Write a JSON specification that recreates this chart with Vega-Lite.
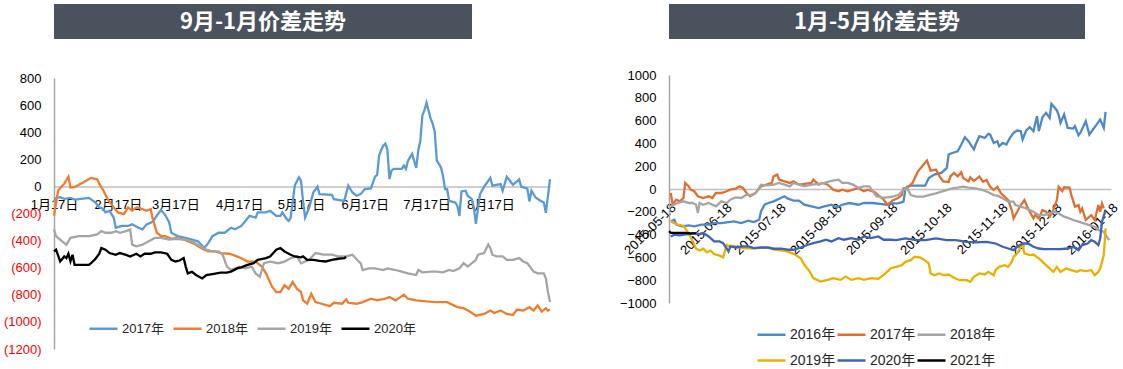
{
"$schema": "https://vega.github.io/schema/vega-lite/v6.json",
"background": "white",
"padding": {"left": 3, "top": 4, "right": 0, "bottom": 0},
"config": {"view": {"stroke": null}, "font": "Liberation Sans, Noto Sans CJK SC"},
"datasets": {
"L": [
{"d":"2021/01/17","s":"2017年","v":-92},{"d":"2021/01/20","s":"2017年","v":-80},{"d":"2021/01/22","s":"2017年","v":-92},{"d":"2021/01/25","s":"2017年","v":-85},{"d":"2021/01/27","s":"2017年","v":-97},{"d":"2021/01/30","s":"2017年","v":-92},{"d":"2021/02/03","s":"2017年","v":-85},{"d":"2021/02/06","s":"2017年","v":-117},{"d":"2021/02/08","s":"2017年","v":-155},{"d":"2021/02/10","s":"2017年","v":-167},{"d":"2021/02/11","s":"2017年","v":-192},{"d":"2021/02/13","s":"2017年","v":-180},{"d":"2021/02/15","s":"2017年","v":-230},{"d":"2021/02/16","s":"2017年","v":-305},{"d":"2021/02/19","s":"2017年","v":-292},{"d":"2021/02/22","s":"2017年","v":-292},{"d":"2021/02/24","s":"2017年","v":-280},{"d":"2021/02/27","s":"2017年","v":-305},{"d":"2021/03/01","s":"2017年","v":-317},{"d":"2021/03/03","s":"2017年","v":-280},{"d":"2021/03/05","s":"2017年","v":-267},{"d":"2021/03/06","s":"2017年","v":-260},{"d":"2021/03/08","s":"2017年","v":-215},{"d":"2021/03/10","s":"2017年","v":-175},{"d":"2021/03/12","s":"2017年","v":-210},{"d":"2021/03/14","s":"2017年","v":-267},{"d":"2021/03/15","s":"2017年","v":-342},{"d":"2021/03/18","s":"2017年","v":-367},{"d":"2021/03/22","s":"2017年","v":-380},{"d":"2021/03/25","s":"2017年","v":-392},{"d":"2021/03/28","s":"2017年","v":-405},{"d":"2021/03/31","s":"2017年","v":-455},{"d":"2021/04/02","s":"2017年","v":-417},{"d":"2021/04/04","s":"2017年","v":-367},{"d":"2021/04/07","s":"2017年","v":-342},{"d":"2021/04/10","s":"2017年","v":-342},{"d":"2021/04/13","s":"2017年","v":-305},{"d":"2021/04/15","s":"2017年","v":-317},{"d":"2021/04/18","s":"2017年","v":-292},{"d":"2021/04/20","s":"2017年","v":-255},{"d":"2021/04/22","s":"2017年","v":-217},{"d":"2021/04/25","s":"2017年","v":-230},{"d":"2021/04/26","s":"2017年","v":-192},{"d":"2021/04/30","s":"2017年","v":-192},{"d":"2021/05/02","s":"2017年","v":-180},{"d":"2021/05/05","s":"2017年","v":-217},{"d":"2021/05/07","s":"2017年","v":-217},{"d":"2021/05/08","s":"2017年","v":-192},{"d":"2021/05/10","s":"2017年","v":-240},{"d":"2021/05/11","s":"2017年","v":-255},{"d":"2021/05/12","s":"2017年","v":-230},{"d":"2021/05/14","s":"2017年","v":7},{"d":"2021/05/16","s":"2017年","v":67},{"d":"2021/05/17","s":"2017年","v":42},{"d":"2021/05/18","s":"2017年","v":-107},{"d":"2021/05/19","s":"2017年","v":-230},{"d":"2021/05/21","s":"2017年","v":-156},{"d":"2021/05/23","s":"2017年","v":-45},{"d":"2021/05/25","s":"2017年","v":-2},{"d":"2021/05/26","s":"2017年","v":-57},{"d":"2021/06/01","s":"2017年","v":-62},{"d":"2021/06/02","s":"2017年","v":-94},{"d":"2021/06/07","s":"2017年","v":-107},{"d":"2021/06/09","s":"2017年","v":5},{"d":"2021/06/11","s":"2017年","v":-45},{"d":"2021/06/13","s":"2017年","v":-69},{"d":"2021/06/15","s":"2017年","v":-57},{"d":"2021/06/17","s":"2017年","v":-20},{"d":"2021/06/20","s":"2017年","v":-15},{"d":"2021/06/22","s":"2017年","v":72},{"d":"2021/06/23","s":"2017年","v":84},{"d":"2021/06/24","s":"2017年","v":228},{"d":"2021/06/25","s":"2017年","v":270},{"d":"2021/06/26","s":"2017年","v":300},{"d":"2021/06/27","s":"2017年","v":315},{"d":"2021/06/28","s":"2017年","v":270},{"d":"2021/06/29","s":"2017年","v":54},{"d":"2021/06/30","s":"2017年","v":116},{"d":"2021/07/01","s":"2017年","v":129},{"d":"2021/07/05","s":"2017年","v":129},{"d":"2021/07/06","s":"2017年","v":154},{"d":"2021/07/07","s":"2017年","v":129},{"d":"2021/07/08","s":"2017年","v":190},{"d":"2021/07/10","s":"2017年","v":240},{"d":"2021/07/12","s":"2017年","v":136},{"d":"2021/07/13","s":"2017年","v":265},{"d":"2021/07/14","s":"2017年","v":339},{"d":"2021/07/15","s":"2017年","v":525},{"d":"2021/07/16","s":"2017年","v":562},{"d":"2021/07/17","s":"2017年","v":617},{"d":"2021/07/19","s":"2017年","v":500},{"d":"2021/07/20","s":"2017年","v":463},{"d":"2021/07/21","s":"2017年","v":401},{"d":"2021/07/22","s":"2017年","v":191},{"d":"2021/07/24","s":"2017年","v":141},{"d":"2021/07/25","s":"2017年","v":79},{"d":"2021/07/26","s":"2017年","v":-20},{"d":"2021/07/27","s":"2017年","v":-20},{"d":"2021/07/28","s":"2017年","v":-107},{"d":"2021/07/31","s":"2017年","v":-119},{"d":"2021/08/01","s":"2017年","v":-144},{"d":"2021/08/02","s":"2017年","v":-218},{"d":"2021/08/03","s":"2017年","v":-37},{"d":"2021/08/05","s":"2017年","v":-32},{"d":"2021/08/06","s":"2017年","v":-69},{"d":"2021/08/08","s":"2017年","v":-94},{"d":"2021/08/09","s":"2017年","v":-156},{"d":"2021/08/10","s":"2017年","v":-277},{"d":"2021/08/12","s":"2017年","v":-57},{"d":"2021/08/14","s":"2017年","v":-2},{"d":"2021/08/17","s":"2017年","v":62},{"d":"2021/08/18","s":"2017年","v":5},{"d":"2021/08/22","s":"2017年","v":17},{"d":"2021/08/23","s":"2017年","v":-32},{"d":"2021/08/25","s":"2017年","v":72},{"d":"2021/08/28","s":"2017年","v":12},{"d":"2021/08/31","s":"2017年","v":52},{"d":"2021/09/01","s":"2017年","v":-2},{"d":"2021/09/04","s":"2017年","v":-17},{"d":"2021/09/05","s":"2017年","v":-111},{"d":"2021/09/06","s":"2017年","v":-32},{"d":"2021/09/08","s":"2017年","v":-82},{"d":"2021/09/10","s":"2017年","v":-102},{"d":"2021/09/12","s":"2017年","v":-119},{"d":"2021/09/13","s":"2017年","v":-195},{"d":"2021/09/15","s":"2017年","v":54},
{"d":"2021/01/17","s":"2018年","v":-217},{"d":"2021/01/19","s":"2018年","v":-30},{"d":"2021/01/22","s":"2018年","v":20},{"d":"2021/01/24","s":"2018年","v":72},{"d":"2021/01/25","s":"2018年","v":-8},{"d":"2021/01/27","s":"2018年","v":-5},{"d":"2021/01/30","s":"2018年","v":20},{"d":"2021/02/02","s":"2018年","v":45},{"d":"2021/02/04","s":"2018年","v":62},{"d":"2021/02/07","s":"2018年","v":52},{"d":"2021/02/08","s":"2018年","v":20},{"d":"2021/02/10","s":"2018年","v":-30},{"d":"2021/02/12","s":"2018年","v":-92},{"d":"2021/02/15","s":"2018年","v":-155},{"d":"2021/02/17","s":"2018年","v":-192},{"d":"2021/02/20","s":"2018年","v":-205},{"d":"2021/02/22","s":"2018年","v":-155},{"d":"2021/02/24","s":"2018年","v":-180},{"d":"2021/02/26","s":"2018年","v":-155},{"d":"2021/02/28","s":"2018年","v":-162},{"d":"2021/03/03","s":"2018年","v":-180},{"d":"2021/03/05","s":"2018年","v":-167},{"d":"2021/03/06","s":"2018年","v":-242},{"d":"2021/03/08","s":"2018年","v":-342},{"d":"2021/03/10","s":"2018年","v":-367},{"d":"2021/03/12","s":"2018年","v":-367},{"d":"2021/03/15","s":"2018年","v":-387},{"d":"2021/03/17","s":"2018年","v":-380},{"d":"2021/03/21","s":"2018年","v":-392},{"d":"2021/03/23","s":"2018年","v":-405},{"d":"2021/03/26","s":"2018年","v":-422},{"d":"2021/03/28","s":"2018年","v":-442},{"d":"2021/03/31","s":"2018年","v":-467},{"d":"2021/04/02","s":"2018年","v":-480},{"d":"2021/04/05","s":"2018年","v":-480},{"d":"2021/04/08","s":"2018年","v":-492},{"d":"2021/04/12","s":"2018年","v":-497},{"d":"2021/04/14","s":"2018年","v":-505},{"d":"2021/04/18","s":"2018年","v":-530},{"d":"2021/04/21","s":"2018年","v":-555},{"d":"2021/04/25","s":"2018年","v":-555},{"d":"2021/04/28","s":"2018年","v":-592},{"d":"2021/04/30","s":"2018年","v":-642},{"d":"2021/05/03","s":"2018年","v":-742},{"d":"2021/05/05","s":"2018年","v":-780},{"d":"2021/05/07","s":"2018年","v":-780},{"d":"2021/05/09","s":"2018年","v":-730},{"d":"2021/05/11","s":"2018年","v":-755},{"d":"2021/05/13","s":"2018年","v":-705},{"d":"2021/05/15","s":"2018年","v":-755},{"d":"2021/05/17","s":"2018年","v":-779},{"d":"2021/05/18","s":"2018年","v":-841},{"d":"2021/05/20","s":"2018年","v":-866},{"d":"2021/05/22","s":"2018年","v":-792},{"d":"2021/05/24","s":"2018年","v":-854},{"d":"2021/05/27","s":"2018年","v":-866},{"d":"2021/05/31","s":"2018年","v":-884},{"d":"2021/06/02","s":"2018年","v":-859},{"d":"2021/06/06","s":"2018年","v":-866},{"d":"2021/06/08","s":"2018年","v":-834},{"d":"2021/06/09","s":"2018年","v":-859},{"d":"2021/06/13","s":"2018年","v":-866},{"d":"2021/06/16","s":"2018年","v":-854},{"d":"2021/06/20","s":"2018年","v":-829},{"d":"2021/06/23","s":"2018年","v":-841},{"d":"2021/06/27","s":"2018年","v":-829},{"d":"2021/06/29","s":"2018年","v":-817},{"d":"2021/07/02","s":"2018年","v":-841},{"d":"2021/07/06","s":"2018年","v":-799},{"d":"2021/07/08","s":"2018年","v":-829},{"d":"2021/07/12","s":"2018年","v":-841},{"d":"2021/07/17","s":"2018年","v":-849},{"d":"2021/07/22","s":"2018年","v":-854},{"d":"2021/07/27","s":"2018年","v":-854},{"d":"2021/08/01","s":"2018年","v":-891},{"d":"2021/08/04","s":"2018年","v":-899},{"d":"2021/08/07","s":"2018年","v":-924},{"d":"2021/08/10","s":"2018年","v":-954},{"d":"2021/08/14","s":"2018年","v":-941},{"d":"2021/08/17","s":"2018年","v":-916},{"d":"2021/08/19","s":"2018年","v":-934},{"d":"2021/08/22","s":"2018年","v":-916},{"d":"2021/08/25","s":"2018年","v":-941},{"d":"2021/08/28","s":"2018年","v":-949},{"d":"2021/08/30","s":"2018年","v":-909},{"d":"2021/09/02","s":"2018年","v":-916},{"d":"2021/09/05","s":"2018年","v":-891},{"d":"2021/09/07","s":"2018年","v":-916},{"d":"2021/09/09","s":"2018年","v":-879},{"d":"2021/09/11","s":"2018年","v":-924},{"d":"2021/09/13","s":"2018年","v":-899},{"d":"2021/09/14","s":"2018年","v":-916},{"d":"2021/09/15","s":"2018年","v":-909},
{"d":"2021/01/17","s":"2019年","v":-317},{"d":"2021/01/18","s":"2019年","v":-367},{"d":"2021/01/21","s":"2019年","v":-405},{"d":"2021/01/23","s":"2019年","v":-430},{"d":"2021/01/25","s":"2019年","v":-380},{"d":"2021/01/29","s":"2019年","v":-367},{"d":"2021/02/03","s":"2019年","v":-367},{"d":"2021/02/07","s":"2019年","v":-355},{"d":"2021/02/09","s":"2019年","v":-330},{"d":"2021/02/11","s":"2019年","v":-342},{"d":"2021/02/14","s":"2019年","v":-342},{"d":"2021/02/16","s":"2019年","v":-330},{"d":"2021/02/18","s":"2019年","v":-342},{"d":"2021/02/21","s":"2019年","v":-330},{"d":"2021/02/23","s":"2019年","v":-317},{"d":"2021/02/24","s":"2019年","v":-430},{"d":"2021/02/26","s":"2019年","v":-442},{"d":"2021/03/01","s":"2019年","v":-430},{"d":"2021/03/04","s":"2019年","v":-405},{"d":"2021/03/07","s":"2019年","v":-380},{"d":"2021/03/10","s":"2019年","v":-380},{"d":"2021/03/14","s":"2019年","v":-392},{"d":"2021/03/17","s":"2019年","v":-387},{"d":"2021/03/22","s":"2019年","v":-392},{"d":"2021/03/25","s":"2019年","v":-405},{"d":"2021/03/29","s":"2019年","v":-442},{"d":"2021/04/01","s":"2019年","v":-467},{"d":"2021/04/04","s":"2019年","v":-480},{"d":"2021/04/07","s":"2019年","v":-480},{"d":"2021/04/09","s":"2019年","v":-505},{"d":"2021/04/11","s":"2019年","v":-592},{"d":"2021/04/13","s":"2019年","v":-617},{"d":"2021/04/17","s":"2019年","v":-592},{"d":"2021/04/20","s":"2019年","v":-605},{"d":"2021/04/23","s":"2019年","v":-592},{"d":"2021/04/25","s":"2019年","v":-642},{"d":"2021/04/27","s":"2019年","v":-667},{"d":"2021/04/29","s":"2019年","v":-567},{"d":"2021/05/02","s":"2019年","v":-555},{"d":"2021/05/06","s":"2019年","v":-567},{"d":"2021/05/09","s":"2019年","v":-555},{"d":"2021/05/12","s":"2019年","v":-530},{"d":"2021/05/15","s":"2019年","v":-517},{"d":"2021/05/17","s":"2019年","v":-567},{"d":"2021/05/21","s":"2019年","v":-542},{"d":"2021/05/24","s":"2019年","v":-492},{"d":"2021/05/28","s":"2019年","v":-504},{"d":"2021/06/01","s":"2019年","v":-504},{"d":"2021/06/04","s":"2019年","v":-517},{"d":"2021/06/08","s":"2019年","v":-517},{"d":"2021/06/11","s":"2019年","v":-504},{"d":"2021/06/14","s":"2019年","v":-554},{"d":"2021/06/15","s":"2019年","v":-567},{"d":"2021/06/16","s":"2019年","v":-617},{"d":"2021/06/19","s":"2019年","v":-605},{"d":"2021/06/22","s":"2019年","v":-605},{"d":"2021/06/26","s":"2019年","v":-617},{"d":"2021/06/28","s":"2019年","v":-605},{"d":"2021/07/02","s":"2019年","v":-617},{"d":"2021/07/05","s":"2019年","v":-629},{"d":"2021/07/08","s":"2019年","v":-642},{"d":"2021/07/12","s":"2019年","v":-654},{"d":"2021/07/13","s":"2019年","v":-617},{"d":"2021/07/15","s":"2019年","v":-634},{"d":"2021/07/19","s":"2019年","v":-629},{"d":"2021/07/22","s":"2019年","v":-629},{"d":"2021/07/25","s":"2019年","v":-634},{"d":"2021/07/28","s":"2019年","v":-617},{"d":"2021/07/30","s":"2019年","v":-625},{"d":"2021/08/02","s":"2019年","v":-605},{"d":"2021/08/04","s":"2019年","v":-567},{"d":"2021/08/06","s":"2019年","v":-592},{"d":"2021/08/10","s":"2019年","v":-542},{"d":"2021/08/11","s":"2019年","v":-504},{"d":"2021/08/14","s":"2019年","v":-492},{"d":"2021/08/16","s":"2019年","v":-429},{"d":"2021/08/17","s":"2019年","v":-454},{"d":"2021/08/18","s":"2019年","v":-504},{"d":"2021/08/20","s":"2019年","v":-517},{"d":"2021/08/23","s":"2019年","v":-517},{"d":"2021/08/25","s":"2019年","v":-542},{"d":"2021/08/28","s":"2019年","v":-542},{"d":"2021/08/31","s":"2019年","v":-529},{"d":"2021/09/02","s":"2019年","v":-554},{"d":"2021/09/04","s":"2019年","v":-567},{"d":"2021/09/07","s":"2019年","v":-629},{"d":"2021/09/09","s":"2019年","v":-642},{"d":"2021/09/12","s":"2019年","v":-642},{"d":"2021/09/13","s":"2019年","v":-679},{"d":"2021/09/14","s":"2019年","v":-779},{"d":"2021/09/15","s":"2019年","v":-854},
{"d":"2021/01/17","s":"2020年","v":-479},{"d":"2021/01/18","s":"2020年","v":-467},{"d":"2021/01/20","s":"2020年","v":-554},{"d":"2021/01/22","s":"2020年","v":-517},{"d":"2021/01/23","s":"2020年","v":-530},{"d":"2021/01/24","s":"2020年","v":-497},{"d":"2021/01/25","s":"2020年","v":-554},{"d":"2021/01/26","s":"2020年","v":-505},{"d":"2021/01/27","s":"2020年","v":-579},{"d":"2021/01/29","s":"2020年","v":-579},{"d":"2021/02/03","s":"2020年","v":-579},{"d":"2021/02/04","s":"2020年","v":-567},{"d":"2021/02/06","s":"2020年","v":-537},{"d":"2021/02/08","s":"2020年","v":-497},{"d":"2021/02/09","s":"2020年","v":-455},{"d":"2021/02/11","s":"2020年","v":-467},{"d":"2021/02/13","s":"2020年","v":-492},{"d":"2021/02/16","s":"2020年","v":-505},{"d":"2021/02/18","s":"2020年","v":-492},{"d":"2021/02/21","s":"2020年","v":-505},{"d":"2021/02/23","s":"2020年","v":-517},{"d":"2021/02/26","s":"2020年","v":-497},{"d":"2021/02/28","s":"2020年","v":-517},{"d":"2021/03/02","s":"2020年","v":-497},{"d":"2021/03/05","s":"2020年","v":-497},{"d":"2021/03/07","s":"2020年","v":-487},{"d":"2021/03/10","s":"2020年","v":-487},{"d":"2021/03/13","s":"2020年","v":-497},{"d":"2021/03/15","s":"2020年","v":-542},{"d":"2021/03/17","s":"2020年","v":-554},{"d":"2021/03/19","s":"2020年","v":-547},{"d":"2021/03/21","s":"2020年","v":-529},{"d":"2021/03/22","s":"2020年","v":-592},{"d":"2021/03/23","s":"2020年","v":-642},{"d":"2021/03/25","s":"2020年","v":-630},{"d":"2021/03/27","s":"2020年","v":-654},{"d":"2021/03/30","s":"2020年","v":-679},{"d":"2021/04/01","s":"2020年","v":-654},{"d":"2021/04/04","s":"2020年","v":-647},{"d":"2021/04/08","s":"2020年","v":-637},{"d":"2021/04/11","s":"2020年","v":-637},{"d":"2021/04/13","s":"2020年","v":-629},{"d":"2021/04/16","s":"2020年","v":-605},{"d":"2021/04/18","s":"2020年","v":-597},{"d":"2021/04/21","s":"2020年","v":-579},{"d":"2021/04/24","s":"2020年","v":-567},{"d":"2021/04/26","s":"2020年","v":-542},{"d":"2021/04/30","s":"2020年","v":-529},{"d":"2021/05/02","s":"2020年","v":-517},{"d":"2021/05/05","s":"2020年","v":-467},{"d":"2021/05/07","s":"2020年","v":-455},{"d":"2021/05/09","s":"2020年","v":-480},{"d":"2021/05/12","s":"2020年","v":-505},{"d":"2021/05/14","s":"2020年","v":-517},{"d":"2021/05/17","s":"2020年","v":-524},{"d":"2021/05/18","s":"2020年","v":-517},{"d":"2021/05/20","s":"2020年","v":-542},{"d":"2021/05/23","s":"2020年","v":-542},{"d":"2021/05/26","s":"2020年","v":-549},{"d":"2021/05/29","s":"2020年","v":-554},{"d":"2021/06/01","s":"2020年","v":-542},{"d":"2021/06/04","s":"2020年","v":-534},{"d":"2021/06/07","s":"2020年","v":-529},{"d":"2021/06/08","s":"2020年","v":-521}
],
"R": [
{"d":"2015/05/19","s":"2016年","v":-284},{"d":"2015/05/21","s":"2016年","v":-270},{"d":"2015/05/22","s":"2016年","v":-313},{"d":"2015/05/25","s":"2016年","v":-328},{"d":"2015/05/29","s":"2016年","v":-319},{"d":"2015/06/01","s":"2016年","v":-328},{"d":"2015/06/05","s":"2016年","v":-313},{"d":"2015/06/09","s":"2016年","v":-313},{"d":"2015/06/12","s":"2016年","v":-299},{"d":"2015/06/16","s":"2016年","v":-299},{"d":"2015/06/20","s":"2016年","v":-290},{"d":"2015/06/23","s":"2016年","v":-284},{"d":"2015/06/27","s":"2016年","v":-299},{"d":"2015/07/01","s":"2016年","v":-278},{"d":"2015/07/04","s":"2016年","v":-290},{"d":"2015/07/07","s":"2016年","v":-270},{"d":"2015/07/08","s":"2016年","v":-196},{"d":"2015/07/10","s":"2016年","v":-138},{"d":"2015/07/12","s":"2016年","v":-123},{"d":"2015/07/15","s":"2016年","v":-108},{"d":"2015/07/19","s":"2016年","v":-79},{"d":"2015/07/21","s":"2016年","v":-64},{"d":"2015/07/23","s":"2016年","v":-85},{"d":"2015/07/26","s":"2016年","v":-102},{"d":"2015/07/29","s":"2016年","v":-102},{"d":"2015/08/01","s":"2016年","v":-138},{"d":"2015/08/05","s":"2016年","v":-152},{"d":"2015/08/09","s":"2016年","v":-167},{"d":"2015/08/12","s":"2016年","v":-152},{"d":"2015/08/16","s":"2016年","v":-138},{"d":"2015/08/19","s":"2016年","v":-161},{"d":"2015/08/22","s":"2016年","v":-138},{"d":"2015/08/26","s":"2016年","v":-123},{"d":"2015/08/31","s":"2016年","v":-138},{"d":"2015/09/03","s":"2016年","v":-123},{"d":"2015/09/08","s":"2016年","v":-123},{"d":"2015/09/13","s":"2016年","v":-132},{"d":"2015/09/16","s":"2016年","v":-138},{"d":"2015/09/19","s":"2016年","v":-126},{"d":"2015/09/22","s":"2016年","v":-126},{"d":"2015/09/25","s":"2016年","v":-110},{"d":"2015/09/26","s":"2016年","v":0},{"d":"2015/09/27","s":"2016年","v":20},{"d":"2015/09/29","s":"2016年","v":29},{"d":"2015/10/07","s":"2016年","v":29},{"d":"2015/10/09","s":"2016年","v":97},{"d":"2015/10/12","s":"2016年","v":126},{"d":"2015/10/16","s":"2016年","v":141},{"d":"2015/10/19","s":"2016年","v":185},{"d":"2015/10/20","s":"2016年","v":302},{"d":"2015/10/22","s":"2016年","v":316},{"d":"2015/10/25","s":"2016年","v":331},{"d":"2015/10/27","s":"2016年","v":390},{"d":"2015/10/29","s":"2016年","v":454},{"d":"2015/10/31","s":"2016年","v":419},{"d":"2015/11/03","s":"2016年","v":346},{"d":"2015/11/04","s":"2016年","v":390},{"d":"2015/11/06","s":"2016年","v":463},{"d":"2015/11/09","s":"2016年","v":448},{"d":"2015/11/11","s":"2016年","v":483},{"d":"2015/11/12","s":"2016年","v":478},{"d":"2015/11/14","s":"2016年","v":404},{"d":"2015/11/16","s":"2016年","v":419},{"d":"2015/11/17","s":"2016年","v":375},{"d":"2015/11/19","s":"2016年","v":404},{"d":"2015/11/21","s":"2016年","v":390},{"d":"2015/11/23","s":"2016年","v":448},{"d":"2015/11/25","s":"2016年","v":492},{"d":"2015/11/27","s":"2016年","v":513},{"d":"2015/11/29","s":"2016年","v":507},{"d":"2015/11/30","s":"2016年","v":434},{"d":"2015/12/02","s":"2016年","v":513},{"d":"2015/12/04","s":"2016年","v":542},{"d":"2015/12/06","s":"2016年","v":507},{"d":"2015/12/08","s":"2016年","v":639},{"d":"2015/12/09","s":"2016年","v":507},{"d":"2015/12/11","s":"2016年","v":630},{"d":"2015/12/13","s":"2016年","v":668},{"d":"2015/12/15","s":"2016年","v":624},{"d":"2015/12/16","s":"2016年","v":747},{"d":"2015/12/19","s":"2016年","v":689},{"d":"2015/12/20","s":"2016年","v":648},{"d":"2015/12/21","s":"2016年","v":580},{"d":"2015/12/23","s":"2016年","v":653},{"d":"2015/12/25","s":"2016年","v":536},{"d":"2015/12/28","s":"2016年","v":530},{"d":"2015/12/29","s":"2016年","v":551},{"d":"2015/12/31","s":"2016年","v":472},{"d":"2016/01/01","s":"2016年","v":492},{"d":"2016/01/04","s":"2016年","v":595},{"d":"2016/01/06","s":"2016年","v":478},{"d":"2016/01/10","s":"2016年","v":565},{"d":"2016/01/12","s":"2016年","v":609},{"d":"2016/01/14","s":"2016年","v":536},{"d":"2016/01/15","s":"2016年","v":677},
{"d":"2015/05/19","s":"2017年","v":-35},{"d":"2015/05/20","s":"2017年","v":-138},{"d":"2015/05/22","s":"2017年","v":-94},{"d":"2015/05/24","s":"2017年","v":-108},{"d":"2015/05/26","s":"2017年","v":-79},{"d":"2015/05/27","s":"2017年","v":53},{"d":"2015/05/29","s":"2017年","v":23},{"d":"2015/05/30","s":"2017年","v":-6},{"d":"2015/06/01","s":"2017年","v":-20},{"d":"2015/06/03","s":"2017年","v":-64},{"d":"2015/06/06","s":"2017年","v":-79},{"d":"2015/06/09","s":"2017年","v":-64},{"d":"2015/06/11","s":"2017年","v":-79},{"d":"2015/06/13","s":"2017年","v":-35},{"d":"2015/06/16","s":"2017年","v":-35},{"d":"2015/06/19","s":"2017年","v":-20},{"d":"2015/06/21","s":"2017年","v":-6},{"d":"2015/06/24","s":"2017年","v":3},{"d":"2015/06/26","s":"2017年","v":23},{"d":"2015/06/28","s":"2017年","v":9},{"d":"2015/06/30","s":"2017年","v":-35},{"d":"2015/07/02","s":"2017年","v":-64},{"d":"2015/07/05","s":"2017年","v":-35},{"d":"2015/07/08","s":"2017年","v":23},{"d":"2015/07/11","s":"2017年","v":38},{"d":"2015/07/14","s":"2017年","v":53},{"d":"2015/07/15","s":"2017年","v":111},{"d":"2015/07/17","s":"2017年","v":126},{"d":"2015/07/18","s":"2017年","v":82},{"d":"2015/07/21","s":"2017年","v":67},{"d":"2015/07/24","s":"2017年","v":53},{"d":"2015/07/26","s":"2017年","v":67},{"d":"2015/07/29","s":"2017年","v":38},{"d":"2015/08/01","s":"2017年","v":44},{"d":"2015/08/05","s":"2017年","v":53},{"d":"2015/08/06","s":"2017年","v":82},{"d":"2015/08/09","s":"2017年","v":38},{"d":"2015/08/11","s":"2017年","v":53},{"d":"2015/08/14","s":"2017年","v":38},{"d":"2015/08/17","s":"2017年","v":-6},{"d":"2015/08/20","s":"2017年","v":-20},{"d":"2015/08/22","s":"2017年","v":-6},{"d":"2015/08/25","s":"2017年","v":-20},{"d":"2015/08/28","s":"2017年","v":-6},{"d":"2015/08/31","s":"2017年","v":9},{"d":"2015/09/03","s":"2017年","v":-20},{"d":"2015/09/05","s":"2017年","v":-6},{"d":"2015/09/09","s":"2017年","v":-26},{"d":"2015/09/11","s":"2017年","v":-56},{"d":"2015/09/13","s":"2017年","v":-79},{"d":"2015/09/14","s":"2017年","v":-94},{"d":"2015/09/16","s":"2017年","v":-138},{"d":"2015/09/19","s":"2017年","v":-100},{"d":"2015/09/22","s":"2017年","v":-79},{"d":"2015/09/24","s":"2017年","v":-53},{"d":"2015/09/25","s":"2017年","v":6},{"d":"2015/09/27","s":"2017年","v":9},{"d":"2015/09/30","s":"2017年","v":53},{"d":"2015/10/03","s":"2017年","v":155},{"d":"2015/10/08","s":"2017年","v":249},{"d":"2015/10/10","s":"2017年","v":161},{"d":"2015/10/13","s":"2017年","v":170},{"d":"2015/10/15","s":"2017年","v":111},{"d":"2015/10/17","s":"2017年","v":67},{"d":"2015/10/20","s":"2017年","v":62},{"d":"2015/10/21","s":"2017年","v":111},{"d":"2015/10/23","s":"2017年","v":141},{"d":"2015/10/25","s":"2017年","v":111},{"d":"2015/10/27","s":"2017年","v":146},{"d":"2015/10/28","s":"2017年","v":97},{"d":"2015/10/31","s":"2017年","v":67},{"d":"2015/11/01","s":"2017年","v":103},{"d":"2015/11/03","s":"2017年","v":70},{"d":"2015/11/06","s":"2017年","v":110},{"d":"2015/11/08","s":"2017年","v":64},{"d":"2015/11/10","s":"2017年","v":79},{"d":"2015/11/12","s":"2017年","v":20},{"d":"2015/11/14","s":"2017年","v":-9},{"d":"2015/11/16","s":"2017年","v":20},{"d":"2015/11/18","s":"2017年","v":-38},{"d":"2015/11/20","s":"2017年","v":-67},{"d":"2015/11/22","s":"2017年","v":-97},{"d":"2015/11/24","s":"2017年","v":-185},{"d":"2015/11/25","s":"2017年","v":-258},{"d":"2015/11/27","s":"2017年","v":-199},{"d":"2015/11/29","s":"2017年","v":-141},{"d":"2015/12/01","s":"2017年","v":-97},{"d":"2015/12/03","s":"2017年","v":-170},{"d":"2015/12/06","s":"2017年","v":-258},{"d":"2015/12/07","s":"2017年","v":-229},{"d":"2015/12/09","s":"2017年","v":-258},{"d":"2015/12/11","s":"2017年","v":-185},{"d":"2015/12/13","s":"2017年","v":-199},{"d":"2015/12/15","s":"2017年","v":-243},{"d":"2015/12/17","s":"2017年","v":-185},{"d":"2015/12/19","s":"2017年","v":-97},{"d":"2015/12/20","s":"2017年","v":20},{"d":"2015/12/22","s":"2017年","v":-18},{"d":"2015/12/23","s":"2017年","v":15},{"d":"2015/12/26","s":"2017年","v":12},{"d":"2015/12/27","s":"2017年","v":-53},{"d":"2015/12/29","s":"2017年","v":-155},{"d":"2015/12/31","s":"2017年","v":-141},{"d":"2016/01/01","s":"2017年","v":-199},{"d":"2016/01/02","s":"2017年","v":-170},{"d":"2016/01/04","s":"2017年","v":-272},{"d":"2016/01/07","s":"2017年","v":-229},{"d":"2016/01/09","s":"2017年","v":-272},{"d":"2016/01/11","s":"2017年","v":-141},{"d":"2016/01/12","s":"2017年","v":-199},{"d":"2016/01/13","s":"2017年","v":-126},{"d":"2016/01/14","s":"2017年","v":-170},
{"d":"2015/05/19","s":"2018年","v":-152},{"d":"2015/05/23","s":"2018年","v":-123},{"d":"2015/05/26","s":"2018年","v":-108},{"d":"2015/05/29","s":"2018年","v":-123},{"d":"2015/05/31","s":"2018年","v":-123},{"d":"2015/06/02","s":"2018年","v":-138},{"d":"2015/06/03","s":"2018年","v":-211},{"d":"2015/06/04","s":"2018年","v":-123},{"d":"2015/06/06","s":"2018年","v":-138},{"d":"2015/06/09","s":"2018年","v":-123},{"d":"2015/06/13","s":"2018年","v":-152},{"d":"2015/06/16","s":"2018年","v":-108},{"d":"2015/06/19","s":"2018年","v":-123},{"d":"2015/06/21","s":"2018年","v":-94},{"d":"2015/06/24","s":"2018年","v":-73},{"d":"2015/06/27","s":"2018年","v":-79},{"d":"2015/06/30","s":"2018年","v":-50},{"d":"2015/07/02","s":"2018年","v":-56},{"d":"2015/07/05","s":"2018年","v":-35},{"d":"2015/07/08","s":"2018年","v":38},{"d":"2015/07/11","s":"2018年","v":32},{"d":"2015/07/15","s":"2018年","v":38},{"d":"2015/07/18","s":"2018年","v":53},{"d":"2015/07/21","s":"2018年","v":38},{"d":"2015/07/24","s":"2018年","v":23},{"d":"2015/07/26","s":"2018年","v":53},{"d":"2015/07/29","s":"2018年","v":38},{"d":"2015/08/01","s":"2018年","v":23},{"d":"2015/08/05","s":"2018年","v":38},{"d":"2015/08/09","s":"2018年","v":44},{"d":"2015/08/12","s":"2018年","v":53},{"d":"2015/08/15","s":"2018年","v":67},{"d":"2015/08/17","s":"2018年","v":73},{"d":"2015/08/20","s":"2018年","v":82},{"d":"2015/08/22","s":"2018年","v":53},{"d":"2015/08/25","s":"2018年","v":53},{"d":"2015/08/28","s":"2018年","v":38},{"d":"2015/08/31","s":"2018年","v":9},{"d":"2015/09/03","s":"2018年","v":23},{"d":"2015/09/06","s":"2018年","v":23},{"d":"2015/09/08","s":"2018年","v":-20},{"d":"2015/09/10","s":"2018年","v":-64},{"d":"2015/09/13","s":"2018年","v":-73},{"d":"2015/09/15","s":"2018年","v":-76},{"d":"2015/09/19","s":"2018年","v":-67},{"d":"2015/09/22","s":"2018年","v":-53},{"d":"2015/09/25","s":"2018年","v":-9},{"d":"2015/09/27","s":"2018年","v":6},{"d":"2015/09/29","s":"2018年","v":-53},{"d":"2015/10/02","s":"2018年","v":-67},{"d":"2015/10/06","s":"2018年","v":-67},{"d":"2015/10/09","s":"2018年","v":-53},{"d":"2015/10/13","s":"2018年","v":-38},{"d":"2015/10/16","s":"2018年","v":-23},{"d":"2015/10/19","s":"2018年","v":-9},{"d":"2015/10/22","s":"2018年","v":6},{"d":"2015/10/25","s":"2018年","v":12},{"d":"2015/10/28","s":"2018年","v":20},{"d":"2015/10/31","s":"2018年","v":12},{"d":"2015/11/04","s":"2018年","v":6},{"d":"2015/11/08","s":"2018年","v":-9},{"d":"2015/11/11","s":"2018年","v":-29},{"d":"2015/11/14","s":"2018年","v":-53},{"d":"2015/11/16","s":"2018年","v":-59},{"d":"2015/11/19","s":"2018年","v":-82},{"d":"2015/11/22","s":"2018年","v":-111},{"d":"2015/11/25","s":"2018年","v":-111},{"d":"2015/11/26","s":"2018年","v":-141},{"d":"2015/11/29","s":"2018年","v":-155},{"d":"2015/12/02","s":"2018年","v":-170},{"d":"2015/12/04","s":"2018年","v":-185},{"d":"2015/12/06","s":"2018年","v":-199},{"d":"2015/12/09","s":"2018年","v":-229},{"d":"2015/12/12","s":"2018年","v":-229},{"d":"2015/12/15","s":"2018年","v":-214},{"d":"2015/12/17","s":"2018年","v":-199},{"d":"2015/12/20","s":"2018年","v":-214},{"d":"2015/12/23","s":"2018年","v":-243},{"d":"2015/12/26","s":"2018年","v":-258},{"d":"2015/12/28","s":"2018年","v":-272},{"d":"2015/12/31","s":"2018年","v":-287},{"d":"2016/01/03","s":"2018年","v":-302},{"d":"2016/01/06","s":"2018年","v":-316},{"d":"2016/01/09","s":"2018年","v":-331},{"d":"2016/01/11","s":"2018年","v":-360},{"d":"2016/01/14","s":"2018年","v":-375},{"d":"2016/01/15","s":"2018年","v":-404},{"d":"2016/01/17","s":"2018年","v":-448},
{"d":"2015/05/19","s":"2019年","v":-284},{"d":"2015/05/21","s":"2019年","v":-300},{"d":"2015/05/23","s":"2019年","v":-313},{"d":"2015/05/26","s":"2019年","v":-322},{"d":"2015/05/29","s":"2019年","v":-392},{"d":"2015/05/31","s":"2019年","v":-454},{"d":"2015/06/02","s":"2019年","v":-524},{"d":"2015/06/04","s":"2019年","v":-540},{"d":"2015/06/06","s":"2019年","v":-524},{"d":"2015/06/08","s":"2019年","v":-555},{"d":"2015/06/10","s":"2019年","v":-540},{"d":"2015/06/12","s":"2019年","v":-570},{"d":"2015/06/15","s":"2019年","v":-585},{"d":"2015/06/17","s":"2019年","v":-600},{"d":"2015/06/19","s":"2019年","v":-489},{"d":"2015/06/20","s":"2019年","v":-500},{"d":"2015/06/23","s":"2019年","v":-500},{"d":"2015/06/27","s":"2019年","v":-516},{"d":"2015/07/01","s":"2019年","v":-521},{"d":"2015/07/04","s":"2019年","v":-521},{"d":"2015/07/08","s":"2019年","v":-516},{"d":"2015/07/12","s":"2019年","v":-516},{"d":"2015/07/15","s":"2019年","v":-530},{"d":"2015/07/19","s":"2019年","v":-539},{"d":"2015/07/22","s":"2019年","v":-545},{"d":"2015/07/25","s":"2019年","v":-563},{"d":"2015/07/27","s":"2019年","v":-577},{"d":"2015/07/30","s":"2019年","v":-607},{"d":"2015/08/01","s":"2019年","v":-665},{"d":"2015/08/04","s":"2019年","v":-724},{"d":"2015/08/06","s":"2019年","v":-782},{"d":"2015/08/10","s":"2019年","v":-812},{"d":"2015/08/14","s":"2019年","v":-797},{"d":"2015/08/17","s":"2019年","v":-782},{"d":"2015/08/21","s":"2019年","v":-797},{"d":"2015/08/24","s":"2019年","v":-768},{"d":"2015/08/27","s":"2019年","v":-797},{"d":"2015/08/31","s":"2019年","v":-782},{"d":"2015/09/03","s":"2019年","v":-797},{"d":"2015/09/07","s":"2019年","v":-782},{"d":"2015/09/11","s":"2019年","v":-788},{"d":"2015/09/14","s":"2019年","v":-753},{"d":"2015/09/16","s":"2019年","v":-724},{"d":"2015/09/18","s":"2019年","v":-695},{"d":"2015/09/21","s":"2019年","v":-683},{"d":"2015/09/24","s":"2019年","v":-668},{"d":"2015/09/26","s":"2019年","v":-639},{"d":"2015/09/29","s":"2019年","v":-624},{"d":"2015/10/01","s":"2019年","v":-595},{"d":"2015/10/04","s":"2019年","v":-600},{"d":"2015/10/06","s":"2019年","v":-615},{"d":"2015/10/09","s":"2019年","v":-653},{"d":"2015/10/10","s":"2019年","v":-741},{"d":"2015/10/12","s":"2019年","v":-756},{"d":"2015/10/15","s":"2019年","v":-741},{"d":"2015/10/17","s":"2019年","v":-756},{"d":"2015/10/20","s":"2019年","v":-750},{"d":"2015/10/23","s":"2019年","v":-779},{"d":"2015/10/26","s":"2019年","v":-800},{"d":"2015/10/30","s":"2019年","v":-800},{"d":"2015/11/01","s":"2019年","v":-815},{"d":"2015/11/03","s":"2019年","v":-771},{"d":"2015/11/06","s":"2019年","v":-741},{"d":"2015/11/09","s":"2019年","v":-750},{"d":"2015/11/11","s":"2019年","v":-727},{"d":"2015/11/14","s":"2019年","v":-756},{"d":"2015/11/15","s":"2019年","v":-712},{"d":"2015/11/17","s":"2019年","v":-683},{"d":"2015/11/20","s":"2019年","v":-668},{"d":"2015/11/22","s":"2019年","v":-683},{"d":"2015/11/24","s":"2019年","v":-639},{"d":"2015/11/25","s":"2019年","v":-595},{"d":"2015/11/27","s":"2019年","v":-565},{"d":"2015/11/29","s":"2019年","v":-507},{"d":"2015/11/30","s":"2019年","v":-492},{"d":"2015/12/01","s":"2019年","v":-565},{"d":"2015/12/04","s":"2019年","v":-580},{"d":"2015/12/06","s":"2019年","v":-575},{"d":"2015/12/09","s":"2019年","v":-609},{"d":"2015/12/12","s":"2019年","v":-653},{"d":"2015/12/15","s":"2019年","v":-697},{"d":"2015/12/17","s":"2019年","v":-727},{"d":"2015/12/19","s":"2019年","v":-683},{"d":"2015/12/21","s":"2019年","v":-727},{"d":"2015/12/24","s":"2019年","v":-697},{"d":"2015/12/27","s":"2019年","v":-712},{"d":"2015/12/30","s":"2019年","v":-727},{"d":"2016/01/01","s":"2019年","v":-712},{"d":"2016/01/04","s":"2019年","v":-720},{"d":"2016/01/07","s":"2019年","v":-712},{"d":"2016/01/09","s":"2019年","v":-756},{"d":"2016/01/11","s":"2019年","v":-727},{"d":"2016/01/12","s":"2019年","v":-697},{"d":"2016/01/14","s":"2019年","v":-580},{"d":"2016/01/15","s":"2019年","v":-346},
{"d":"2015/05/19","s":"2020年","v":-416},{"d":"2015/05/21","s":"2020年","v":-401},{"d":"2015/05/24","s":"2020年","v":-406},{"d":"2015/05/26","s":"2020年","v":-401},{"d":"2015/05/29","s":"2020年","v":-396},{"d":"2015/06/01","s":"2020年","v":-387},{"d":"2015/06/04","s":"2020年","v":-396},{"d":"2015/06/06","s":"2020年","v":-387},{"d":"2015/06/09","s":"2020年","v":-416},{"d":"2015/06/12","s":"2020年","v":-460},{"d":"2015/06/15","s":"2020年","v":-460},{"d":"2015/06/17","s":"2020年","v":-475},{"d":"2015/06/20","s":"2020年","v":-548},{"d":"2015/06/21","s":"2020年","v":-504},{"d":"2015/06/24","s":"2020年","v":-513},{"d":"2015/06/28","s":"2020年","v":-504},{"d":"2015/07/01","s":"2020年","v":-504},{"d":"2015/07/04","s":"2020年","v":-519},{"d":"2015/07/08","s":"2020年","v":-513},{"d":"2015/07/12","s":"2020年","v":-513},{"d":"2015/07/15","s":"2020年","v":-524},{"d":"2015/07/19","s":"2020年","v":-524},{"d":"2015/07/23","s":"2020年","v":-533},{"d":"2015/07/26","s":"2020年","v":-533},{"d":"2015/07/30","s":"2020年","v":-513},{"d":"2015/08/03","s":"2020年","v":-489},{"d":"2015/08/06","s":"2020年","v":-475},{"d":"2015/08/10","s":"2020年","v":-460},{"d":"2015/08/13","s":"2020年","v":-445},{"d":"2015/08/16","s":"2020年","v":-460},{"d":"2015/08/20","s":"2020年","v":-431},{"d":"2015/08/23","s":"2020年","v":-445},{"d":"2015/08/27","s":"2020年","v":-431},{"d":"2015/08/31","s":"2020年","v":-445},{"d":"2015/09/03","s":"2020年","v":-416},{"d":"2015/09/07","s":"2020年","v":-431},{"d":"2015/09/11","s":"2020年","v":-416},{"d":"2015/09/14","s":"2020年","v":-445},{"d":"2015/09/18","s":"2020年","v":-445},{"d":"2015/09/21","s":"2020年","v":-448},{"d":"2015/09/26","s":"2020年","v":-434},{"d":"2015/10/02","s":"2020年","v":-448},{"d":"2015/10/07","s":"2020年","v":-448},{"d":"2015/10/13","s":"2020年","v":-434},{"d":"2015/10/19","s":"2020年","v":-448},{"d":"2015/10/24","s":"2020年","v":-448},{"d":"2015/10/30","s":"2020年","v":-463},{"d":"2015/11/04","s":"2020年","v":-469},{"d":"2015/11/10","s":"2020年","v":-463},{"d":"2015/11/15","s":"2020年","v":-478},{"d":"2015/11/19","s":"2020年","v":-507},{"d":"2015/11/22","s":"2020年","v":-522},{"d":"2015/11/25","s":"2020年","v":-536},{"d":"2015/11/27","s":"2020年","v":-507},{"d":"2015/11/30","s":"2020年","v":-478},{"d":"2015/12/03","s":"2020年","v":-478},{"d":"2015/12/06","s":"2020年","v":-507},{"d":"2015/12/09","s":"2020年","v":-522},{"d":"2015/12/12","s":"2020年","v":-527},{"d":"2015/12/17","s":"2020年","v":-527},{"d":"2015/12/21","s":"2020年","v":-527},{"d":"2015/12/25","s":"2020年","v":-522},{"d":"2015/12/28","s":"2020年","v":-507},{"d":"2015/12/31","s":"2020年","v":-536},{"d":"2016/01/02","s":"2020年","v":-492},{"d":"2016/01/05","s":"2020年","v":-478},{"d":"2016/01/07","s":"2020年","v":-448},{"d":"2016/01/09","s":"2020年","v":-463},{"d":"2016/01/11","s":"2020年","v":-492},{"d":"2016/01/12","s":"2020年","v":-434},{"d":"2016/01/13","s":"2020年","v":-287},{"d":"2016/01/15","s":"2020年","v":-185},
{"d":"2015/05/18","s":"2021年","v":-370},{"d":"2015/05/19","s":"2021年","v":-385},{"d":"2015/05/22","s":"2021年","v":-385},{"d":"2015/05/25","s":"2021年","v":-385},{"d":"2015/05/27","s":"2021年","v":-385},{"d":"2015/05/30","s":"2021年","v":-390},{"d":"2015/06/02","s":"2021年","v":-390}
]
},
"spacing": 64,
"resolve": {"scale": {"x": "independent", "y": "independent", "color": "independent"}},
"hconcat": [
{
"spacing": 39,
"bounds": "flush",
"resolve": {"scale": {"x": "independent", "y": "independent", "color": "independent"}},
"vconcat": [
{
"width": 418, "height": 35,
"view": {"fill": "#4A535D", "stroke": null},
"data": {"values": [{"t": "9月-1月价差走势"}]},
"mark": {"type": "text", "color": "white", "fontSize": 22, "fontWeight": "bold", "font": "Noto Sans CJK SC"},
"encoding": {
"text": {"field": "t"},
"x": {"field": "t", "type": "nominal", "scale": {"type": "point"}, "axis": null},
"y": {"field": "t", "type": "nominal", "scale": {"type": "point"}, "axis": null}
}
},
{
"width": 496, "height": 271,
"data": {"name": "L"},
"mark": {"type": "line", "strokeWidth": 2.3},
"encoding": {
"x": {"field": "d", "type": "temporal",
"scale": {"domain": [{"year": 2021, "month": 1, "date": 17}, {"year": 2021, "month": 9, "date": 15}]},
"axis": {"orient": "bottom", "offset": -162.6, "title": null, "grid": false, "ticks": false,
"values": [{"year": 2021, "month": 1, "date": 17}, {"year": 2021, "month": 2, "date": 17}, {"year": 2021, "month": 3, "date": 17}, {"year": 2021, "month": 4, "date": 17}, {"year": 2021, "month": 5, "date": 17}, {"year": 2021, "month": 6, "date": 17}, {"year": 2021, "month": 7, "date": 17}, {"year": 2021, "month": 8, "date": 17}],
"format": "%-m月%-d日", "labelFlush": false, "labelOverlap": false, "labelPadding": 12, "labelFontSize": 13, "labelColor": "#000000",
"domainColor": "#BFBFBF", "domainWidth": 1.5}},
"y": {"field": "v", "type": "quantitative",
"scale": {"domain": [-1200, 800], "nice": false, "zero": false},
"axis": {"title": null, "grid": false, "ticks": false, "values": [-1200, -1000, -800, -600, -400, -200, 0, 200, 400, 600, 800],
"labelExpr": "datum.value < 0 ? '(' + format(-datum.value, 'd') + ')' : format(datum.value, 'd')",
"labelColor": {"condition": {"test": "datum.value < 0", "value": "#FF0000"}, "value": "#000000"},
"labelPadding": 13, "labelFontSize": 13, "domainColor": "#A6A6A6", "domainWidth": 1.5}},
"color": {"field": "s", "type": "nominal",
"scale": {"domain": ["2017年", "2018年", "2019年", "2020年"], "range": ["#5B9BD5", "#ED7D31", "#A5A5A5", "#000000"]},
"legend": {"title": null, "orient": "none", "legendX": 34, "legendY": 235, "direction": "horizontal",
"symbolType": "stroke", "symbolSize": 784, "symbolStrokeWidth": 2.5, "labelFontSize": 13, "labelOffset": 3,
"columnPadding": 4, "labelColor": "#262626"}}
}
}
]
},
{
"spacing": 36,
"bounds": "flush",
"resolve": {"scale": {"x": "independent", "y": "independent", "color": "independent"}},
"vconcat": [
{
"width": 416, "height": 35,
"view": {"fill": "#4A535D", "stroke": null},
"data": {"values": [{"t": "1月-5月价差走势"}]},
"mark": {"type": "text", "color": "white", "fontSize": 22, "fontWeight": "bold", "font": "Noto Sans CJK SC"},
"encoding": {
"text": {"field": "t"},
"x": {"field": "t", "type": "nominal", "scale": {"type": "point"}, "axis": null},
"y": {"field": "t", "type": "nominal", "scale": {"type": "point"}, "axis": null}
}
},
{
"width": 442, "height": 228,
"data": {"name": "R"},
"mark": {"type": "line", "strokeWidth": 2.3},
"encoding": {
"x": {"field": "d", "type": "temporal",
"scale": {"domain": [{"year": 2015, "month": 5, "date": 18}, {"year": 2016, "month": 1, "date": 18}]},
"axis": {"orient": "bottom", "offset": -114, "title": null, "grid": false, "ticks": false,
"values": [{"year": 2015, "month": 5, "date": 18}, {"year": 2015, "month": 6, "date": 18}, {"year": 2015, "month": 7, "date": 18}, {"year": 2015, "month": 8, "date": 18}, {"year": 2015, "month": 9, "date": 18}, {"year": 2015, "month": 10, "date": 18}, {"year": 2015, "month": 11, "date": 18}, {"year": 2015, "month": 12, "date": 18}, {"year": 2016, "month": 1, "date": 18}],
"format": "%Y-%m-%d", "labelAngle": -45, "labelFlush": false, "labelOverlap": false, "labelPadding": 12, "labelFontSize": 13, "labelColor": "#000000",
"domainColor": "#BFBFBF", "domainWidth": 1.5}},
"y": {"field": "v", "type": "quantitative",
"scale": {"domain": [-1000, 1000], "nice": false, "zero": false},
"axis": {"title": null, "grid": false, "ticks": false, "values": [-1000, -800, -600, -400, -200, 0, 200, 400, 600, 800, 1000], "format": "d",
"labelPadding": 13, "labelFontSize": 13, "labelColor": "#000000", "domainColor": "#A6A6A6", "domainWidth": 1.5}},
"color": {"field": "s", "type": "nominal",
"scale": {"domain": ["2016年", "2017年", "2018年", "2019年", "2020年", "2021年"], "range": ["#4E8AC8", "#E07032", "#A5A5A5", "#EBB000", "#3F64B4", "#000000"]},
"legend": {"title": null, "orient": "none", "legendX": 87, "legendY": 244, "direction": "horizontal", "columns": 3,
"symbolType": "stroke", "symbolSize": 784, "symbolStrokeWidth": 2.5, "labelFontSize": 14, "labelOffset": 3,
"columnPadding": -5, "rowPadding": 3, "labelColor": "#262626"}}
}
}
]
}
]
}
